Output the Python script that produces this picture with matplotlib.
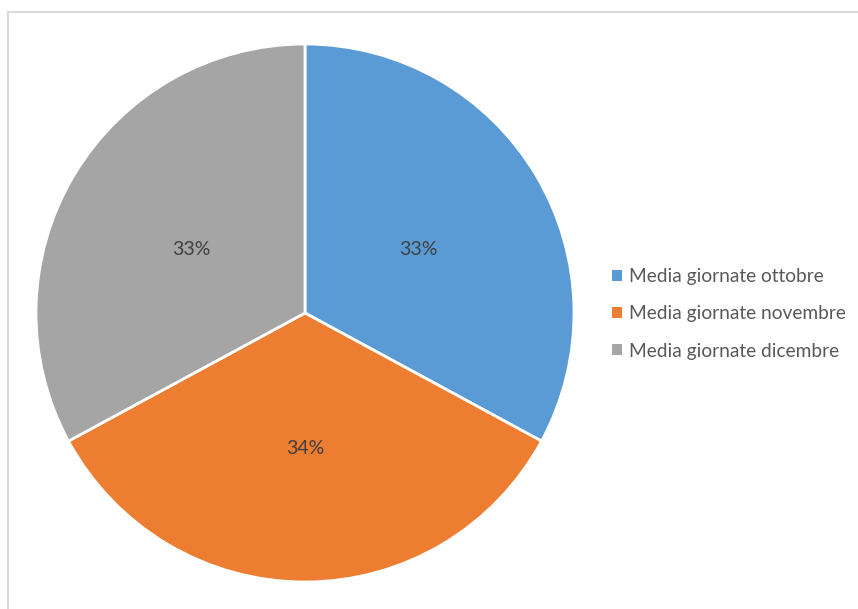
import matplotlib
matplotlib.use("Agg")
import matplotlib.pyplot as plt
from matplotlib.patches import Patch
from matplotlib.lines import Line2D

categories = ["Media giornate ottobre", "Media giornate novembre", "Media giornate dicembre"]
values = [32.9, 34.2, 32.9]
colors = ["#5B9BD5", "#ED7D31", "#A5A5A5"]

plt.rcParams['font.family'] = ['Lato', 'DejaVu Sans']

fig = plt.figure(figsize=(8.58, 6.09), dpi=100)
fig.patch.set_facecolor("white")

W, H = 858, 609
cx, cy, r = 305, 313, 269
ax = fig.add_axes([(cx - r) / W, (H - cy - r) / H, 2 * r / W, 2 * r / H])
wedges, texts, autotexts = ax.pie(
    values, colors=colors, startangle=90, counterclock=False,
    autopct=lambda p: f"{p:.0f}%", pctdistance=0.49, radius=1.0,
    wedgeprops=dict(edgecolor="white", linewidth=2),
    textprops=dict(color="#404040", fontsize=14))
for t in autotexts:
    x, y = t.get_position()
    t.set_position((x, y - 0.015))
ax.set_xlim(-1, 1)
ax.set_ylim(-1, 1)
ax.set_aspect("equal")
ax.axis("off")

handles = [Patch(facecolor=c, edgecolor="none") for c in colors]
leg = fig.legend(handles, categories, loc="center left",
                 bbox_to_anchor=(612 / W, (H - 314) / H), frameon=False,
                 fontsize=13.8, labelcolor="#595959", handlelength=0.5,
                 handleheight=0.5, handletextpad=0.4, labelspacing=1.05,
                 borderpad=0, borderaxespad=0)

# chart border (left and top edges visible)
fig.add_artist(Line2D([8 / W, 8 / W], [0, (H - 12) / H], transform=fig.transFigure,
                      color="#D9D9D9", lw=1.5))
fig.add_artist(Line2D([8 / W, 1], [(H - 12) / H, (H - 12) / H], transform=fig.transFigure,
                      color="#D9D9D9", lw=1.5))

fig.savefig("out.png", dpi=100)
